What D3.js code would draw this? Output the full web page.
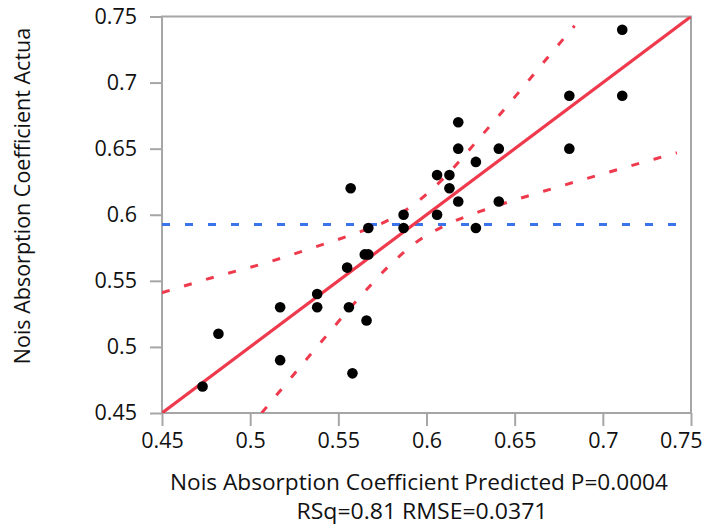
<!DOCTYPE html>
<html>
<head>
<meta charset="utf-8">
<script src="https://cdn.jsdelivr.net/npm/d3@7"></script>
<style>
  html, body { margin: 0; padding: 0; background: #fff; }
  svg text { font-family: "Open Sans", "Noto Sans", sans-serif; fill: #111; }
</style>
</head>
<body>
<svg id="chart" width="704" height="527"></svg>
<script>
// Predicted vs actual noise absorption coefficient (one point per run)
const predicted = [0.473, 0.482, 0.517, 0.517, 0.538, 0.538, 0.555, 0.556, 0.557, 0.558,
                   0.565, 0.567, 0.567, 0.566, 0.587, 0.587, 0.606, 0.606, 0.613, 0.613,
                   0.618, 0.618, 0.618, 0.628, 0.628, 0.641, 0.641, 0.681, 0.681, 0.711, 0.711];
const actual    = [0.470, 0.510, 0.530, 0.490, 0.540, 0.530, 0.560, 0.530, 0.620, 0.480,
                   0.570, 0.570, 0.590, 0.520, 0.600, 0.590, 0.630, 0.600, 0.630, 0.620,
                   0.670, 0.650, 0.610, 0.640, 0.590, 0.650, 0.610, 0.690, 0.650, 0.740, 0.690];

// Fitted line endpoints and mean of the response
const fitX = [0.45, 0.75];
const fitY = [0.45, 0.75];
const meanY = 0.5927;

// Confidence curves around the fit
const upperX = [0.45, 0.48, 0.51, 0.54, 0.56, 0.58, 0.593, 0.61, 0.63, 0.65, 0.67, 0.684];
const upperY = [0.541, 0.553, 0.564, 0.577, 0.586, 0.597, 0.608, 0.628, 0.658, 0.689, 0.721, 0.743];
const lowerX = [0.5065, 0.52, 0.54, 0.56, 0.58, 0.593, 0.61, 0.63, 0.65, 0.67, 0.69, 0.71, 0.73, 0.742];
const lowerY = [0.450, 0.4716, 0.5034, 0.5344, 0.5629, 0.578, 0.5916, 0.6023, 0.6111, 0.6192, 0.6271, 0.6348, 0.6424, 0.6469];

const xTicks = [0.45, 0.5, 0.55, 0.6, 0.65, 0.7, 0.75];
const yTicks = [0.45, 0.5, 0.55, 0.6, 0.65, 0.7, 0.75];
const xTitle = "Nois Absorption Coefficient Predicted P=0.0004";
const xSubtitle = "RSq=0.81 RMSE=0.0371";
const yTitle = "Nois Absorption Coefficient Actua";

const margin = { left: 162, top: 16.5, right: 691, bottom: 413 };
const svg = d3.select("#chart");
const W = 704;
const fontSize = 21.5;
const titleSize = 22.5;

const x = d3.scaleLinear().domain([0.45, 0.75]).range([margin.left, margin.right]);
const y = d3.scaleLinear().domain([0.45, 0.75]).range([margin.bottom, margin.top]);

const red = "#ee3a4c";
const blue = "#3b74ea";
const gray = "#a6a6a6";
const fmt = d => String(+d.toFixed(2));

svg.append("defs").append("clipPath").attr("id", "plotClip")
  .append("rect")
  .attr("x", margin.left).attr("y", margin.top)
  .attr("width", margin.right - margin.left).attr("height", margin.bottom - margin.top);

// Axes
const xAxis = svg.append("g")
  .attr("transform", `translate(0,${margin.bottom})`)
  .call(d3.axisBottom(x).tickValues(xTicks).tickFormat(fmt).tickSize(13).tickPadding(7));
const yAxis = svg.append("g")
  .attr("transform", `translate(${margin.left},0)`)
  .call(d3.axisLeft(y).tickValues(yTicks).tickFormat(fmt).tickSize(12).tickPadding(13));
[xAxis, yAxis].forEach(g => {
  g.select(".domain").remove();
  g.selectAll(".tick line").attr("stroke", gray).attr("stroke-width", 2);
  g.selectAll(".tick text").attr("font-size", fontSize).attr("fill", "#111")
    .attr("font-family", "'Open Sans', 'Noto Sans', sans-serif");
});
// keep the last x label inside the page edge
xAxis.selectAll(".tick text").each(function () {
  const box = this.getBBox();
  const tx = x(d3.select(this.parentNode).datum());
  const overflow = tx + box.x + box.width - (W - 2);
  if (overflow > 0) d3.select(this).attr("dx", -overflow);
});

// Frame
svg.append("rect")
  .attr("x", margin.left).attr("y", margin.top)
  .attr("width", margin.right - margin.left).attr("height", margin.bottom - margin.top)
  .attr("fill", "none").attr("stroke", gray).attr("stroke-width", 2);

const plot = svg.append("g").attr("clip-path", "url(#plotClip)");

// Mean line
plot.append("line")
  .attr("x1", x(0.45)).attr("x2", x(0.75))
  .attr("y1", y(meanY)).attr("y2", y(meanY))
  .attr("stroke", blue).attr("stroke-width", 3).attr("stroke-dasharray", "8,15");

const line = d3.line().x(d => x(d[0])).y(d => y(d[1])).curve(d3.curveMonotoneX);

// Confidence curves
plot.append("path").datum(upperX.map((v, i) => [v, upperY[i]]))
  .attr("d", line).attr("fill", "none")
  .attr("stroke", red).attr("stroke-width", 3).attr("stroke-dasharray", "8,15");
plot.append("path").datum(lowerX.map((v, i) => [v, lowerY[i]]))
  .attr("d", line).attr("fill", "none")
  .attr("stroke", red).attr("stroke-width", 3).attr("stroke-dasharray", "8,15");

// Fit line
plot.append("line")
  .attr("x1", x(fitX[0])).attr("y1", y(fitY[0]))
  .attr("x2", x(fitX[1])).attr("y2", y(fitY[1]))
  .attr("stroke", red).attr("stroke-width", 3.2);

// Points
svg.append("g").selectAll("circle")
  .data(predicted.map((v, i) => [v, actual[i]]))
  .join("circle")
  .attr("cx", d => x(d[0])).attr("cy", d => y(d[1]))
  .attr("r", 5.3).attr("fill", "#000");

// Titles
svg.append("text")
  .attr("x", 419).attr("y", 490)
  .attr("text-anchor", "middle").attr("font-size", titleSize)
  .attr("textLength", 498).attr("lengthAdjust", "spacingAndGlyphs")
  .text(xTitle);
svg.append("text")
  .attr("x", 422).attr("y", 519)
  .attr("text-anchor", "middle").attr("font-size", titleSize)
  .attr("textLength", 251).attr("lengthAdjust", "spacingAndGlyphs")
  .text(xSubtitle);
svg.append("text")
  .attr("transform", `translate(30,196) rotate(-90)`)
  .attr("text-anchor", "middle").attr("font-size", fontSize)
  .text(yTitle);
</script>
</body>
</html>
